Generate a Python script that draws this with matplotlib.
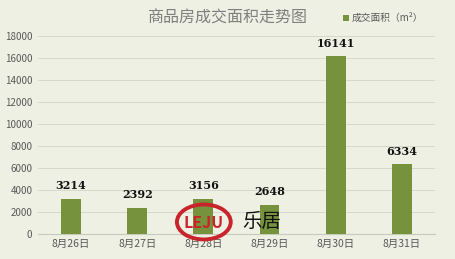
import matplotlib
matplotlib.use('Agg')
import matplotlib.pyplot as plt
from matplotlib.patches import Ellipse
import numpy as np

plt.rcParams['font.family'] = ['Noto Sans CJK SC', 'DejaVu Sans']

dates = ['8月26日', '8月27日', '8月28日', '8月29日', '8月30日', '8月31日']
area = [3214, 2392, 3156, 2648, 16141, 6334]
yticks = [0, 2000, 4000, 6000, 8000, 10000, 12000, 14000, 16000, 18000]

bg = '#eef0e3'
bar_color = '#76923c'

fig = plt.figure(figsize=(4.56, 2.59), dpi=100)
fig.patch.set_facecolor(bg)
ax = fig.add_axes([0.083, 0.097, 0.871, 0.764])
ax.set_facecolor(bg)

x = np.arange(len(dates))
bars = ax.bar(x, area, width=0.3, color=bar_color, zorder=3, label='成交面积（m²）')

for xi, v in zip(x, area):
    ax.text(xi, v + 700, str(v), ha='center', va='bottom', fontsize=8,
            fontweight='bold', family='DejaVu Serif', color='#111111', zorder=4)

ax.set_xlim(-0.5, len(dates) - 0.5)
ax.set_ylim(0, 18000)
ax.set_yticks(yticks)
ax.set_xticks(x)
ax.set_xticklabels(dates)
ax.tick_params(axis='y', length=0, labelsize=7, colors='#595959', pad=4)
ax.tick_params(axis='x', length=0, labelsize=7.5, colors='#595959', pad=4)
ax.grid(axis='y', color='#d6d8cc', linewidth=0.7, zorder=0)
for s in ['top', 'right', 'left']:
    ax.spines[s].set_visible(False)
ax.spines['bottom'].set_color('#c8cabd')

fig.text(0.498, 0.93, '商品房成交面积走势图', ha='center', va='center',
         fontsize=11.5, color='#7f7f7f')
leg = fig.legend(handles=[bars], loc='center', bbox_to_anchor=(0.84, 0.93),
                 frameon=False, fontsize=7, handlelength=0.6, handleheight=0.6,
                 handletextpad=0.3, labelcolor='#595959')

# watermark logo
logo = Ellipse((0.447, 0.143), 0.118, 0.135, transform=fig.transFigure,
               facecolor='none', edgecolor='#c8242b', linewidth=2.8, zorder=5)
fig.patches.append(logo)
fig.text(0.447, 0.14, 'LEJU', ha='center', va='center', fontsize=11.5,
         fontweight='bold', color='#c8242b', zorder=6)
fig.text(0.575, 0.143, '乐居', ha='center', va='center', fontsize=14,
         color='#111111', zorder=6)

fig.savefig('out.png', dpi=100, facecolor=bg)
